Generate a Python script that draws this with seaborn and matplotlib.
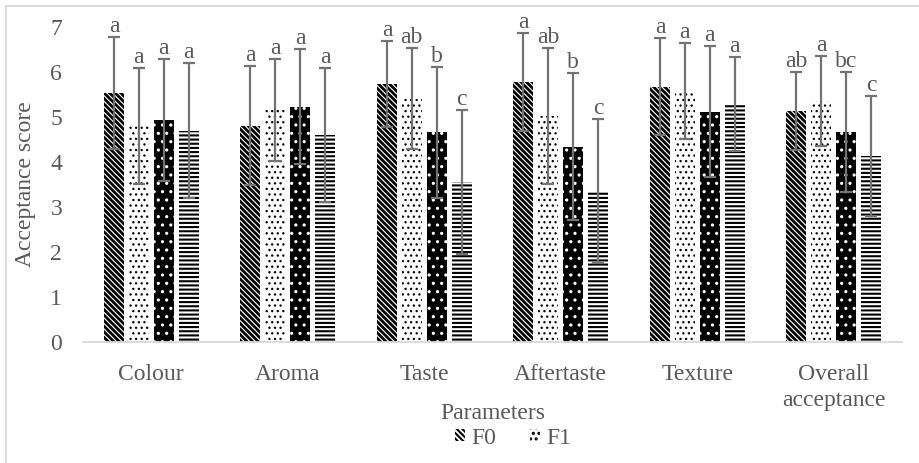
import matplotlib
matplotlib.use("Agg")
import matplotlib.pyplot as plt
from matplotlib.patches import Patch, Rectangle
import numpy as np
import pandas as pd
import seaborn as sns

# data
parameters = ["Colour", "Aroma", "Taste", "Aftertaste", "Texture", "Overall\nacceptance"]
samples = ["F0", "F1", "F2", "F3"]

f0_mean = [5.53, 4.81, 5.73, 5.78, 5.67, 5.14]
f1_mean = [4.80, 5.16, 5.41, 5.02, 5.58, 5.36]
f2_mean = [4.93, 5.23, 4.66, 4.34, 5.12, 4.67]
f3_mean = [4.69, 4.61, 3.56, 3.36, 5.29, 4.13]

f0_sd = [1.24, 1.32, 0.96, 1.08, 1.08, 0.87]
f1_sd = [1.28, 1.14, 1.12, 1.51, 1.06, 1.00]
f2_sd = [1.35, 1.28, 1.46, 1.63, 1.46, 1.34]
f3_sd = [1.50, 1.49, 1.60, 1.60, 1.05, 1.34]

f0_letters = ["a", "a", "a", "a", "a", "ab"]
f1_letters = ["a", "a", "ab", "ab", "a", "a"]
f2_letters = ["a", "a", "b", "b", "a", "bc"]
f3_letters = ["a", "a", "c", "c", "a", "c"]

means = [f0_mean, f1_mean, f2_mean, f3_mean]
sds = [f0_sd, f1_sd, f2_sd, f3_sd]
letters = [f0_letters, f1_letters, f2_letters, f3_letters]

df = pd.DataFrame({
    "Parameter": parameters * len(samples),
    "Sample": np.repeat(samples, len(parameters)),
    "Score": np.concatenate(means),
})

txt = "#595959"
plt.rcParams["font.family"] = ["Liberation Serif", "DejaVu Serif"]
plt.rcParams["hatch.linewidth"] = 1.5

fig = plt.figure(figsize=(9.19, 4.63), dpi=100)
ax = fig.add_axes([83 / 919, 1 - 342 / 463, (902 - 83) / 919, (342 - 27) / 463])

sns.barplot(data=df, x="Parameter", y="Score", hue="Sample", order=parameters,
            hue_order=samples, errorbar=None, width=0.73, gap=0.2,
            palette=["white"] * 4, legend=False, ax=ax)

# pattern fills: face, hatch colour, hatch, hatch width
back = chr(92)
styles = [
    ("white", "black", back * 6, 2.0),
    ("white", "black", "...", 0.9),
    ("black", "white", "..", 1.1),
    ("white", "black", "----", 1.5),
]

bar_groups = list(ax.containers)
for i, cont in enumerate(bar_groups):
    fc, hc, hatch, hlw = styles[i]
    for bar in cont:
        bar.set_facecolor(fc)
        bar.set_edgecolor(hc)
        bar.set_linewidth(0)
        bar.set_hatch(hatch)
        if hasattr(bar, "set_hatch_linewidth"):
            bar.set_hatch_linewidth(hlw)
    xs = [b.get_x() + b.get_width() / 2 for b in cont]
    hs = [b.get_height() for b in cont]
    ax.errorbar(xs, hs, yerr=sds[i], fmt="none", ecolor="#737373",
                elinewidth=1.6, capsize=4.5, capthick=1.6, zorder=5)
    for x, h, s, lab in zip(xs, hs, sds[i], letters[i]):
        ax.text(x, h + s + 0.11, lab, ha="center", va="baseline",
                fontsize=17, color=txt, clip_on=False)

ax.set_ylim(0, 7)
ax.set_yticks(range(8))
ax.set_xlim(-0.5, len(parameters) - 0.5)
for side in ["top", "right", "left"]:
    ax.spines[side].set_visible(False)
ax.spines["bottom"].set_color("#d9d9d9")
ax.spines["bottom"].set_linewidth(1.3)
ax.tick_params(axis="both", length=0, labelsize=17, labelcolor=txt)
ax.tick_params(axis="y", pad=15)
ax.tick_params(axis="x", pad=16)
for t in ax.get_xticklabels():
    t.set_linespacing(1.29)
ax.set_xlabel("Parameters", fontsize=17, color=txt, labelpad=-6)
ax.set_ylabel("Acceptance score", fontsize=17, color=txt, labelpad=10)

handles = [Patch(facecolor=styles[i][0], edgecolor=styles[i][1], hatch=styles[i][2],
                 linewidth=0) for i in range(2)]
leg = fig.legend(handles, samples[:2], loc="center left",
                 bbox_to_anchor=(443 / 919, 1 - 438 / 463), ncol=2, frameon=False,
                 fontsize=17, handlelength=0.42, handleheight=0.42,
                 handletextpad=0.3, columnspacing=1.4, borderpad=0)
for t in leg.get_texts():
    t.set_color(txt)

# light chart-area border (only left and top visible in the reference)
fig.add_artist(Rectangle((6 / 919, -0.1), 1.2, 1.1 - 6 / 463, transform=fig.transFigure,
                         fill=False, edgecolor="#d9d9d9", linewidth=1.3))

fig.savefig("out.png", dpi=100)
